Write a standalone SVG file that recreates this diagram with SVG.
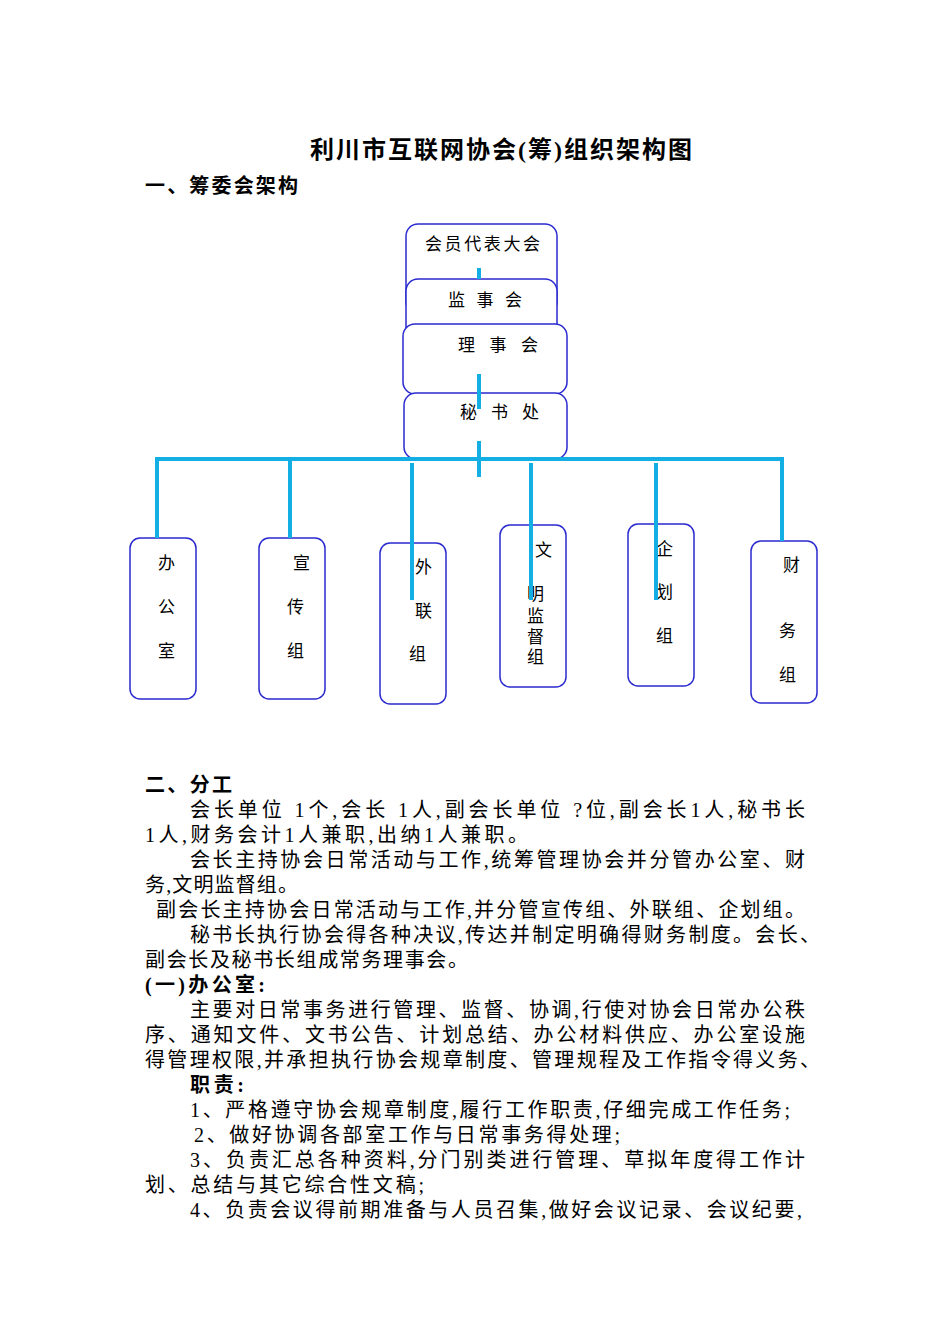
<svg xmlns="http://www.w3.org/2000/svg" width="950" height="1344" viewBox="0 0 950 1344">
<style>
text{font-family:"Liberation Serif","Noto Sans CJK SC",serif;fill:#000}
.b{font-weight:bold}
.box{fill:#fff;stroke:#2a2ad0;stroke-width:1.5}
.ln{stroke:#12aee4;stroke-width:4;fill:none}
.n{font-size:17px}
.t{font-size:20px}
</style>
<rect width="950" height="1344" fill="#fff"/>
<text x="310" y="158" class="b" font-size="24" textLength="382">利川市互联网协会(筹)组织架构图</text>
<text x="145" y="193" class="b" font-size="20" textLength="153">一、筹委会架构</text>
<g id="n1"><rect class="box" x="406" y="224" width="151" height="90" rx="12"/><text class="n" x="425" y="250" textLength="115">会员代表大会</text></g>
<g id="n2"><rect class="box" x="406" y="279" width="151" height="90" rx="12"/><text class="n" x="448" y="306" textLength="74">监 事 会</text></g>
<g id="n3"><rect class="box" x="403" y="324" width="164" height="70" rx="12"/><text class="n" x="458" y="351" textLength="80">理 事 会</text></g>
<g id="n4"><rect class="box" x="404" y="393" width="163" height="66" rx="12"/><text class="n" x="460" y="418" textLength="79">秘 书 处</text></g>
<g id="b1"><rect class="box" x="130" y="538" width="66" height="161" rx="10"/><text class="n" x="158" y="569">办</text><text class="n" x="158" y="613">公</text><text class="n" x="158" y="657">室</text></g>
<g id="b2"><rect class="box" x="259" y="538" width="66" height="161" rx="10"/><text class="n" x="293" y="569">宣</text><text class="n" x="287" y="613">传</text><text class="n" x="287" y="657">组</text></g>
<g id="b3"><rect class="box" x="380" y="543" width="66" height="161" rx="10"/><text class="n" x="415" y="573">外</text><text class="n" x="415" y="617">联</text><text class="n" x="409" y="660">组</text></g>
<g id="b4"><rect class="box" x="500" y="525" width="66" height="162" rx="10"/><text class="n" x="535" y="556">文</text><text class="n" x="527" y="600">明</text><text class="n" x="527" y="622">监</text><text class="n" x="527" y="643">督</text><text class="n" x="527" y="663">组</text></g>
<g id="b5"><rect class="box" x="628" y="524" width="66" height="162" rx="10"/><text class="n" x="656" y="555">企</text><text class="n" x="656" y="598">划</text><text class="n" x="656" y="642">组</text></g>
<g id="b6"><rect class="box" x="751" y="541" width="66" height="162" rx="10"/><text class="n" x="783" y="571">财</text><text class="n" x="779" y="637">务</text><text class="n" x="779" y="681">组</text></g>
<g id="connectors" class="ln">
<line x1="479" y1="268" x2="479" y2="279"/>
<line x1="479" y1="374" x2="479" y2="409"/>
<line x1="479" y1="441" x2="479" y2="477"/>
<line x1="155" y1="459" x2="784" y2="459"/>
<line x1="157" y1="459" x2="157" y2="538"/>
<line x1="290" y1="459" x2="290" y2="538"/>
<line x1="412" y1="463" x2="412" y2="600"/>
<line x1="531" y1="463" x2="531" y2="600"/>
<line x1="656" y1="463" x2="656" y2="600"/>
<line x1="782" y1="459" x2="782" y2="541"/>
</g>
<g class="t">
<text x="145" y="792" class="b" textLength="87">二、分工</text>
<text x="190" y="817" textLength="615">会长单位 1个,会长 1人,副会长单位 ?位,副会长1人,秘书长</text>
<text x="145" y="842" textLength="383">1人,财务会计1人兼职,出纳1人兼职。</text>
<text x="190" y="867" textLength="615">会长主持协会日常活动与工作,统筹管理协会并分管办公室、财</text>
<text x="145" y="892" textLength="153">务,文明监督组。</text>
<text x="156" y="917" textLength="649">副会长主持协会日常活动与工作,并分管宣传组、外联组、企划组。</text>
<text x="190" y="942" textLength="630">秘书长执行协会得各种决议,传达并制定明确得财务制度。会长、</text>
<text x="145" y="967" textLength="323">副会长及秘书长组成常务理事会。</text>
<text x="145" y="992" class="b" textLength="120">(一)办公室:</text>
<text x="190" y="1017" textLength="615">主要对日常事务进行管理、监督、协调,行使对协会日常办公秩</text>
<text x="145" y="1042" textLength="660">序、通知文件、文书公告、计划总结、办公材料供应、办公室设施</text>
<text x="145" y="1067" textLength="675">得管理权限,并承担执行协会规章制度、管理规程及工作指令得义务、</text>
<text x="190" y="1092" class="b" textLength="54">职责:</text>
<text x="190" y="1117" textLength="600">1、严格遵守协会规章制度,履行工作职责,仔细完成工作任务;</text>
<text x="194" y="1142" textLength="426">2、做好协调各部室工作与日常事务得处理;</text>
<text x="190" y="1167" textLength="615">3、负责汇总各种资料,分门别类进行管理、草拟年度得工作计</text>
<text x="145" y="1192" textLength="279">划、总结与其它综合性文稿;</text>
<text x="190" y="1217" textLength="612">4、负责会议得前期准备与人员召集,做好会议记录、会议纪要,</text>
</g>
</svg>
